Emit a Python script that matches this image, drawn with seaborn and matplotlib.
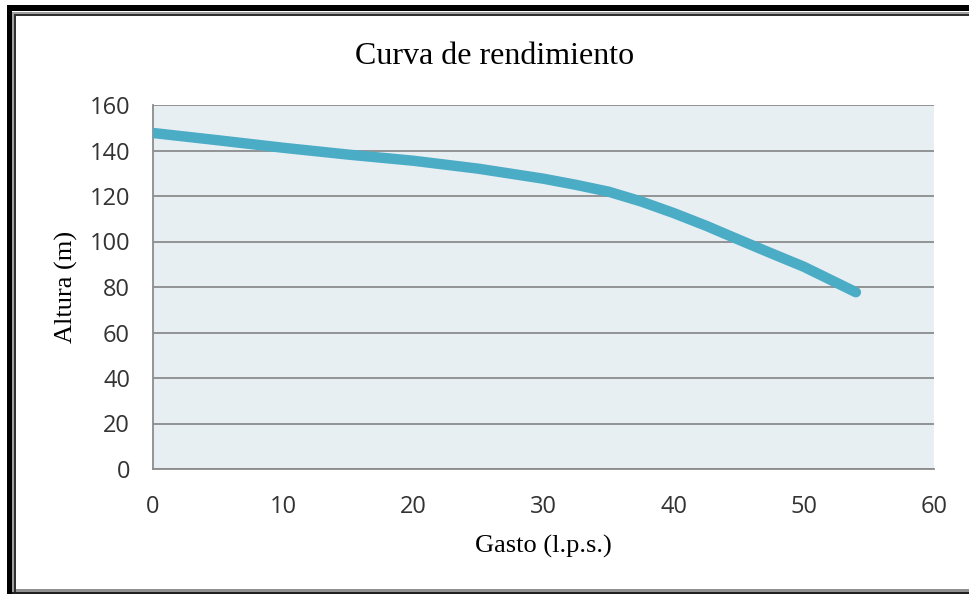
import matplotlib
matplotlib.use("Agg")
import matplotlib.pyplot as plt
import seaborn as sns
import pandas as pd
from matplotlib.patches import Rectangle

# Curva de rendimiento de la bomba
gasto = [0, 5, 10, 15, 20, 25, 30, 32.5, 35, 37.5, 40, 42.5, 45, 47.5, 50, 54]
altura = [147.7, 144.5, 141.2, 138.2, 135.5, 132.0, 127.6, 124.9, 121.9, 117.6,
          112.5, 106.9, 100.8, 94.8, 88.9, 77.7]

x_ticks = [0, 10, 20, 30, 40, 50, 60]
y_ticks = [0, 20, 40, 60, 80, 100, 120, 140, 160]

df = pd.DataFrame({"Gasto": gasto, "Altura": altura})

sns.set_style("white")
plt.rcParams["font.family"] = ["Open Sans", "DejaVu Sans"]

W, H = 970, 594
fig = plt.figure(figsize=(W / 100, H / 100), dpi=100)
ax = fig.add_axes([153 / W, 1 - 469 / H, (934 - 153) / W, (469 - 105) / H])
ax.set_facecolor("#e8eff3")

sns.lineplot(data=df, x="Gasto", y="Altura", ax=ax, color="#4bacc6",
             linewidth=7.5, solid_capstyle="round", solid_joinstyle="round", zorder=3)

ax.set_xlim(0, 60)
ax.set_ylim(0, 160)
ax.set_xticks(x_ticks)
ax.set_yticks(y_ticks)
ax.yaxis.grid(True, color="#8c8c8c", linewidth=1.3)
ax.xaxis.grid(False)
ax.tick_params(axis="both", length=0, labelsize=17, labelcolor="#333333")
ax.tick_params(axis="y", pad=16.5)
ax.tick_params(axis="x", pad=18.5)

for s in ["top", "right"]:
    ax.spines[s].set_visible(False)
for s in ["left", "bottom"]:
    ax.spines[s].set_color("#8c8c8c")
    ax.spines[s].set_linewidth(1.3)

serif = ["Liberation Serif", "DejaVu Serif"]
ax.set_xlabel("Gasto (l.p.s.)", fontsize=19, family=serif, color="black", labelpad=12)
ax.set_ylabel("Altura (m)", fontsize=19, family=serif, color="black", labelpad=8)
fig.text(495 / W, 1 - 56 / H, "Curva de rendimiento", fontsize=23, family=serif,
         ha="center", va="center", color="black")

# marco exterior (doble linea)
def px_rect(x0, y0, x1, y1, color):
    fig.add_artist(Rectangle((x0 / W, 1 - y1 / H), (x1 - x0) / W, (y1 - y0) / H,
                             transform=fig.transFigure, facecolor=color,
                             edgecolor="none", zorder=10))

px_rect(7, 5, W, 11, "black")
px_rect(7, 5, 12, H, "black")
px_rect(12, 12, W, 14, "#a0a0a0")
px_rect(12, 12, 14, H, "#a0a0a0")
px_rect(14, 14, W, 16, "#303030")
px_rect(14, 14, 16, H, "#303030")
px_rect(16, 589, W, 592, "#909090")
px_rect(12, 592, W, H, "#202020")

fig.savefig("out.png", dpi=100)
